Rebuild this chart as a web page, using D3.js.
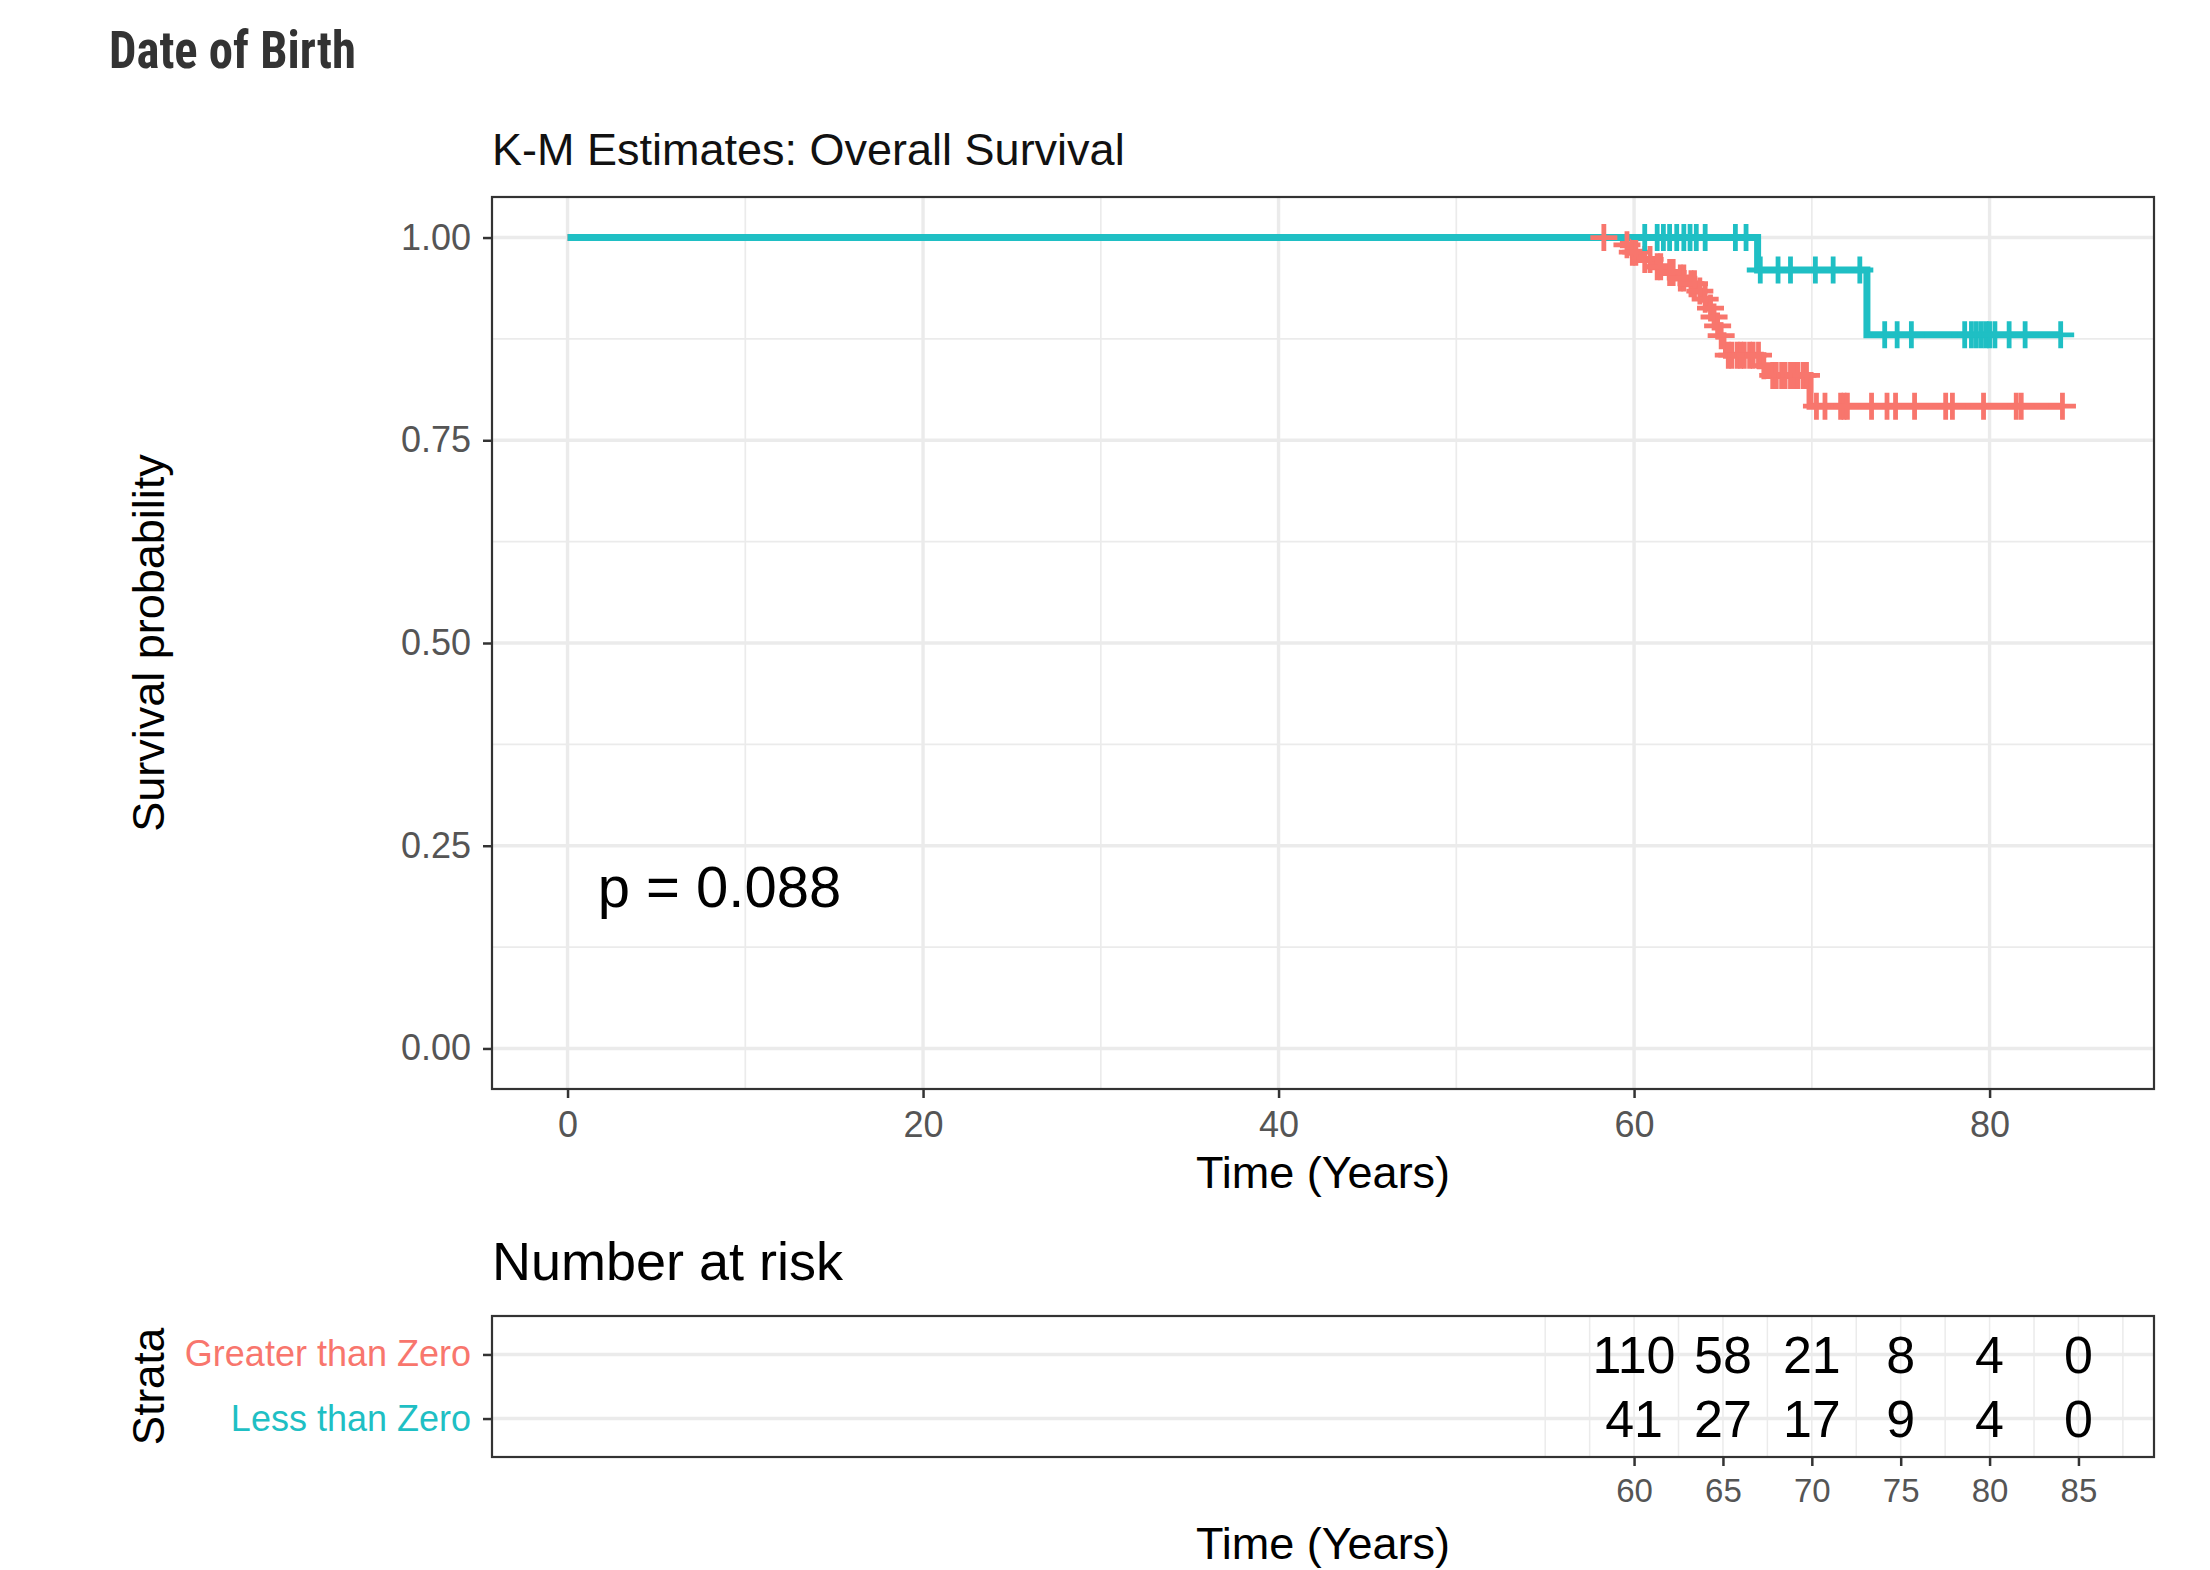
<!DOCTYPE html>
<html>
<head>
<meta charset="utf-8">
<script src="https://cdn.jsdelivr.net/npm/d3@7"></script>
<style>
html,body{margin:0;padding:0;background:#fff;}
text{font-family:"Liberation Sans",Arial,Helvetica,sans-serif;}
</style>
</head>
<body>
<svg id="chart" width="2210" height="1570"></svg>
<script>
// ---------- data ----------
const strata = ["Greater than Zero", "Less than Zero"];
const strataColors = ["#F8766D", "#1FBFC4"];

const greaterEventTimes = [59.4, 59.8, 60.4, 61.1, 61.8, 62.4, 63.0, 63.6, 63.9, 64.2, 64.4, 64.6, 64.8, 65.0, 65.2, 67.1, 67.6, 69.9];
const greaterEventSurv  = [0.991, 0.982, 0.973, 0.964, 0.957, 0.950, 0.943, 0.934, 0.924, 0.913, 0.902, 0.891, 0.879, 0.867, 0.855, 0.842, 0.830, 0.792];
const greaterCensorTimes = [58.3, 59.6, 59.9, 60.1, 60.6, 60.9, 61.3, 61.5, 62.0, 62.2, 62.6, 62.8, 63.2, 63.4, 63.7, 64.0, 64.3, 64.5, 64.7, 64.9,
  65.3, 65.5, 65.8, 66.0, 66.2, 66.5, 66.7, 67.0, 67.3, 67.8, 68.0, 68.3, 68.5, 68.8, 69.0, 69.2, 69.5, 69.7,
  70.26, 70.74, 71.62, 71.81, 72.0, 73.36, 74.23, 74.71, 75.78, 77.53, 77.91, 79.66, 81.5, 81.78, 84.1];

const lessEventTimes = [66.95, 73.1];
const lessEventSurv  = [0.96, 0.88];
const lessCensorTimes = [60.6, 61.3, 61.65, 62.0, 62.4, 62.8, 63.15, 63.5, 64.0, 65.7, 66.3, 67.1, 68.1, 68.8, 70.2, 71.2, 72.7,
  74.1, 74.8, 75.6, 78.6, 78.98, 79.26, 79.54, 79.8, 80.0, 80.3, 81.1, 82.0, 84.0];

const xTicks = [0, 20, 40, 60, 80];
const yTicks = [0, 0.25, 0.5, 0.75, 1];
const yTickLabels = ["0.00", "0.25", "0.50", "0.75", "1.00"];

const riskTimes = [60, 65, 70, 75, 80, 85];
const riskGreater = [110, 58, 21, 8, 4, 0];
const riskLess = [41, 27, 17, 9, 4, 0];

const pValueText = "p = 0.088";

// ---------- layout ----------
const svg = d3.select("#chart");
const P = {left: 492, right: 2154, top: 197, bottom: 1089};
const R = {top: 1316, bottom: 1457};

const x = d3.scaleLinear().domain([-4.25, 89.25]).range([P.left, P.right]);
const y = d3.scaleLinear().domain([-0.05, 1.05]).range([P.bottom, P.top]);
const yr = d3.scaleLinear().domain([0.4, 2.6]).range([R.bottom, R.top]);

const tickColor = "#333333", labelGrey = "#555555";

// headline
svg.append("text").attr("x", 109).attr("y", 68)
  .style("font-family", "'Roboto Condensed', Roboto, sans-serif")
  .attr("font-weight", "bold").attr("font-size", 51).attr("fill", "#333")
  .attr("textLength", 247).attr("lengthAdjust", "spacingAndGlyphs")
  .text("Date of Birth");

svg.append("text").attr("x", P.left).attr("y", 165)
  .attr("font-size", 45).attr("fill", "#111")
  .text("K-M Estimates: Overall Survival");

// ---------- main panel grid ----------
const g = svg.append("g");
const minorX = [10, 30, 50, 70];
const minorY = [0.125, 0.375, 0.625, 0.875];
g.selectAll(".mnx").data(minorX).join("line")
  .attr("x1", d => x(d)).attr("x2", d => x(d)).attr("y1", P.top).attr("y2", P.bottom)
  .attr("stroke", "#ebebeb").attr("stroke-width", 1.7);
g.selectAll(".mny").data(minorY).join("line")
  .attr("y1", d => y(d)).attr("y2", d => y(d)).attr("x1", P.left).attr("x2", P.right)
  .attr("stroke", "#ebebeb").attr("stroke-width", 1.7);
g.selectAll(".mjx").data(xTicks).join("line")
  .attr("x1", d => x(d)).attr("x2", d => x(d)).attr("y1", P.top).attr("y2", P.bottom)
  .attr("stroke", "#ebebeb").attr("stroke-width", 3.4);
g.selectAll(".mjy").data(yTicks).join("line")
  .attr("y1", d => y(d)).attr("y2", d => y(d)).attr("x1", P.left).attr("x2", P.right)
  .attr("stroke", "#ebebeb").attr("stroke-width", 3.4);

// ---------- curves ----------
function stepPoints(times, surv, censor) {
  const end = Math.max(d3.max(censor), d3.max(times));
  const pts = [[0, 1]];
  times.forEach((t, i) => pts.push([t, surv[i]]));
  pts.push([end, surv[surv.length - 1]]);
  return pts;
}
function survAt(times, surv, t) {
  let s = 1;
  times.forEach((tt, i) => { if (tt <= t) s = surv[i]; });
  return s;
}
const line = d3.line().x(d => x(d[0])).y(d => y(d[1])).curve(d3.curveStepAfter);

const groups = [
  {times: greaterEventTimes, surv: greaterEventSurv, censor: greaterCensorTimes, color: strataColors[0]},
  {times: lessEventTimes, surv: lessEventSurv, censor: lessCensorTimes, color: strataColors[1]}
];
groups.forEach(gr => {
  svg.append("path").attr("d", line(stepPoints(gr.times, gr.surv, gr.censor)))
    .attr("fill", "none").attr("stroke", gr.color).attr("stroke-width", 7)
    .attr("stroke-linejoin", "miter");
});
const half = 13.5;
groups.forEach(gr => {
  const cg = svg.append("g");
  gr.censor.forEach(t => {
    const cx = x(t), cy = y(survAt(gr.times, gr.surv, t));
    cg.append("path").attr("d", `M${cx - half},${cy}H${cx + half}M${cx},${cy - half}V${cy + half}`)
      .attr("stroke", gr.color).attr("stroke-width", 4.8).attr("fill", "none");
  });
});

// p value
svg.append("text").attr("x", x(1.7)).attr("y", y(0.2)).attr("dy", "0.36em")
  .attr("font-size", 58).attr("fill", "#000").text(pValueText);

// border
svg.append("rect").attr("x", P.left).attr("y", P.top).attr("width", P.right - P.left).attr("height", P.bottom - P.top)
  .attr("fill", "none").attr("stroke", tickColor).attr("stroke-width", 2.2);

// axes
const xAxis = svg.append("g").attr("transform", `translate(0,${P.bottom})`)
  .call(d3.axisBottom(x).tickValues(xTicks).tickSize(9).tickPadding(8).tickFormat(d3.format("d")));
const yAxis = svg.append("g").attr("transform", `translate(${P.left},0)`)
  .call(d3.axisLeft(y).tickValues(yTicks).tickSize(9).tickPadding(12).tickFormat((d, i) => yTickLabels[i]));
[xAxis, yAxis].forEach(a => {
  a.select(".domain").remove();
  a.selectAll(".tick line").attr("stroke", tickColor).attr("stroke-width", 2.5);
  a.selectAll(".tick text").attr("font-size", 36).attr("fill", labelGrey)
    .style("font-family", "'Liberation Sans',Arial,sans-serif");
});
xAxis.selectAll(".tick text").attr("dy", "0.85em");

svg.append("text").attr("x", (P.left + P.right) / 2).attr("y", 1172).attr("dy", "0.36em")
  .attr("text-anchor", "middle").attr("font-size", 45).attr("fill", "#000").text("Time (Years)");
svg.append("text").attr("transform", `translate(148,${(P.top + P.bottom) / 2}) rotate(-90)`).attr("dy", "0.36em")
  .attr("text-anchor", "middle").attr("font-size", 45).attr("fill", "#000").text("Survival probability");

// ---------- risk table ----------
svg.append("text").attr("x", P.left).attr("y", 1261).attr("dy", "0.36em")
  .attr("font-size", 54).attr("fill", "#000").text("Number at risk");

const rg = svg.append("g");
const riskGrid = d3.range(55, 88, 2.5);
rg.selectAll(".rv").data(riskGrid).join("line")
  .attr("x1", d => x(d)).attr("x2", d => x(d)).attr("y1", R.top).attr("y2", R.bottom)
  .attr("stroke", "#ebebeb").attr("stroke-width", 1.5);
rg.selectAll(".rh").data([1, 2]).join("line")
  .attr("y1", d => yr(d)).attr("y2", d => yr(d)).attr("x1", P.left).attr("x2", P.right)
  .attr("stroke", "#ebebeb").attr("stroke-width", 3.4);

const rows = [{level: 2, values: riskGreater, name: strata[0], color: strataColors[0]},
              {level: 1, values: riskLess, name: strata[1], color: strataColors[1]}];
rows.forEach(r => {
  rg.selectAll(null).data(riskTimes).join("text")
    .attr("x", d => x(d)).attr("y", yr(r.level)).attr("dy", "0.36em")
    .attr("text-anchor", "middle").attr("font-size", 52).attr("fill", "#000")
    .text((d, i) => r.values[i]);
});
svg.append("rect").attr("x", P.left).attr("y", R.top).attr("width", P.right - P.left).attr("height", R.bottom - R.top)
  .attr("fill", "none").attr("stroke", tickColor).attr("stroke-width", 2.2);

const rx = svg.append("g").attr("transform", `translate(0,${R.bottom})`)
  .call(d3.axisBottom(x).tickValues(riskTimes).tickSize(9).tickPadding(8).tickFormat(d3.format("d")));
rx.select(".domain").remove();
rx.selectAll(".tick line").attr("stroke", tickColor).attr("stroke-width", 2.5);
rx.selectAll(".tick text").attr("font-size", 33).attr("fill", labelGrey).attr("dy", "0.85em")
  .style("font-family", "'Liberation Sans',Arial,sans-serif");

const ry = svg.append("g").attr("transform", `translate(${P.left},0)`)
  .call(d3.axisLeft(yr).tickValues([1, 2]).tickSize(9).tickPadding(12).tickFormat(d => d === 2 ? strata[0] : strata[1]));
ry.select(".domain").remove();
ry.selectAll(".tick line").attr("stroke", tickColor).attr("stroke-width", 2.5);
ry.selectAll(".tick text").attr("font-size", 36)
  .attr("fill", d => d === 2 ? strataColors[0] : strataColors[1])
  .style("font-family", "'Liberation Sans',Arial,sans-serif");

svg.append("text").attr("x", (P.left + P.right) / 2).attr("y", 1543).attr("dy", "0.36em")
  .attr("text-anchor", "middle").attr("font-size", 45).attr("fill", "#000").text("Time (Years)");
svg.append("text").attr("transform", `translate(148,${(R.top + R.bottom) / 2}) rotate(-90)`).attr("dy", "0.36em")
  .attr("text-anchor", "middle").attr("font-size", 44).attr("fill", "#000").text("Strata");
</script>
</body>
</html>
